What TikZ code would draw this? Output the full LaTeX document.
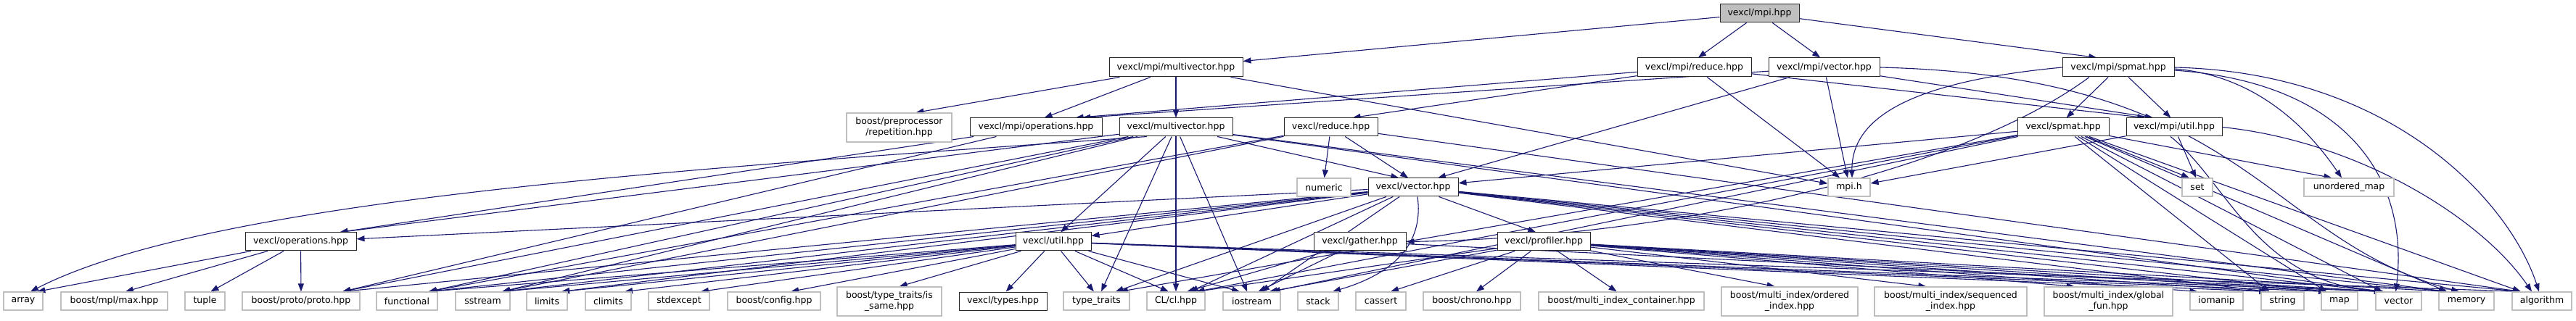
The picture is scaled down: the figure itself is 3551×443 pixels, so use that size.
\documentclass[tikz,border=0pt]{standalone}
\usepackage{fontspec}
\setmainfont{DejaVu Sans}
\usetikzlibrary{arrows.meta}
\definecolor{edgecol}{HTML}{191970}
\definecolor{boxgray}{HTML}{BFBFBF}
\pgfdeclarelayer{back}
\pgfdeclarelayer{bg}
\pgfsetlayers{back,bg,main}
\tikzset{
  conn/.style={draw=edgecol, line width=1.1pt, -{Triangle[length=11pt,width=8pt]}},
  nbase/.style={rectangle, inner sep=0pt, fill=white, text=black, align=center,
                font=\fontsize{12.5}{15}\selectfont},
  nb/.style={nbase, draw=black!85, line width=1.0pt},
  ng/.style={nbase, draw=boxgray, line width=1.2pt},
  nroot/.style={nbase, draw=black!85, line width=1.0pt, fill=boxgray},
}
\newcommand\N[6]{\node[#1, minimum width=#4, minimum height=#5] (#2) at (#3) {#6};}
\newcommand\E[2]{%
  \path (#1); \pgfgetlastxy{\Esx}{\Esy}%
  \path (#2.north); \pgfgetlastxy{\Etx}{\Ety}%
  \path (#2.north east); \pgfgetlastxy{\Eex}{\Eey}%
  \pgfmathsetmacro\Eoff{max(-0.7*(\Eex-\Etx),min(0.7*(\Eex-\Etx),0.06*(\Esx-\Etx)))}%
  \draw[conn] (#1) -- ([xshift=\Eoff pt]#2.north);%
}
\newcommand\Sd[2]{\draw[conn] (#1) -- (#2);}
\begin{document}
\begin{tikzpicture}[x=1pt,y=-1pt]
\begin{pgfonlayer}{back}
\fill[white] (0,0) rectangle (3551,443);
\end{pgfonlayer}
\useasboundingbox (0,0) rectangle (3551,443);
% row 0
\N{nroot}{mpi}{2425.5,18.5}{109}{25}{vexcl/mpi.hpp}
% row 1
\N{nb}{mpimv}{1621,93}{184}{26}{vexcl/mpi/multivector.hpp}
\N{nb}{mpired}{2335.5,93}{157}{26}{vexcl/mpi/reduce.hpp}
\N{nb}{mpivec}{2514.5,93}{153}{26}{vexcl/mpi/vector.hpp}
\N{nb}{mpispmat}{2920,93}{154}{26}{vexcl/mpi/spmat.hpp}
% row 2
\N{ng}{prep}{1239.5,176}{145}{40}{boost/preprocessor\\/repetition.hpp}
\N{nb}{mpiops}{1428,175.5}{182}{25}{vexcl/mpi/operations.hpp}
\N{nb}{mv}{1621,175.5}{156}{25}{vexcl/multivector.hpp}
\N{nb}{red}{1834.5,175.5}{129}{25}{vexcl/reduce.hpp}
\N{nb}{spmat}{2844,175.5}{126}{25}{vexcl/spmat.hpp}
\N{nb}{mpiutil}{2997,175.5}{132}{25}{vexcl/mpi/util.hpp}
% row 3
\N{ng}{numeric}{1825,258.5}{74}{25}{numeric}
\N{nb}{vec}{1948,258.5}{124}{25}{vexcl/vector.hpp}
\N{ng}{mpih}{2549,258.5}{58}{25}{mpi.h}
\N{ng}{set}{3029,258.5}{42}{25}{set}
\N{ng}{umap}{3238,258.5}{124}{25}{unordered\_map}
% row 4
\N{nb}{ops}{414.5,333.5}{153}{25}{vexcl/operations.hpp}
\N{nb}{util}{1452,333.5}{104}{25}{vexcl/util.hpp}
\N{nb}{gather}{1874.5,333.5}{127}{25}{vexcl/gather.hpp}
\N{nb}{prof}{2128,333.5}{128}{25}{vexcl/profiler.hpp}
% row 5
\N{ng}{array}{32,415.5}{54}{25}{array}
\N{ng}{mplmax}{157.5,415.5}{147}{25}{boost/mpl/max.hpp}
\N{ng}{tuple}{282.5,415.5}{55}{25}{tuple}
\N{ng}{proto}{415,415.5}{162}{25}{boost/proto/proto.hpp}
\N{ng}{functional}{561,415.5}{84}{25}{functional}
\N{ng}{sstream}{665.5,415.5}{75}{25}{sstream}
\N{ng}{limits}{754,415.5}{56}{25}{limits}
\N{ng}{climits}{838.5,415.5}{63}{25}{climits}
\N{ng}{stdexcept}{936,415.5}{84}{25}{stdexcept}
\N{ng}{config}{1067,415.5}{128}{25}{boost/config.hpp}
\N{ng}{issame}{1226,416}{144}{40}{boost/type\_traits/is\\\_same.hpp}
\N{nb}{types}{1382.5,415.5}{121}{25}{vexcl/types.hpp}
\N{ng}{typetraits}{1511.5,415.5}{91}{25}{type\_traits}
\N{ng}{clhpp}{1621,415.5}{80}{25}{CL/cl.hpp}
\N{ng}{iostream}{1725.5,415.5}{79}{25}{iostream}
\N{ng}{stack}{1817,415.5}{56}{25}{stack}
\N{ng}{cassert}{1903.5,415.5}{69}{25}{cassert}
\N{ng}{chrono}{2029,415.5}{134}{25}{boost/chrono.hpp}
\N{ng}{mic}{2235,415.5}{228}{25}{boost/multi\_index\_container.hpp}
\N{ng}{ordered}{2467,416}{188}{40}{boost/multi\_index/ordered\\\_index.hpp}
\N{ng}{sequenced}{2689,416}{210}{40}{boost/multi\_index/sequenced\\\_index.hpp}
\N{ng}{globalfun}{2906.5,416}{177}{40}{boost/multi\_index/global\\\_fun.hpp}
\N{ng}{iomanip}{3055.5,415.5}{73}{25}{iomanip}
\N{ng}{string}{3146.5,415.5}{59}{25}{string}
\N{ng}{map}{3225,415.5}{50}{25}{map}
\N{ng}{vectorstd}{3306.5,415.5}{63}{25}{vector}
\N{ng}{memory}{3400,415.5}{76}{25}{memory}
\N{ng}{algorithm}{3504,415.5}{82}{25}{algorithm}

\begin{pgfonlayer}{bg}
% vexcl/mpi.hpp
\Sd{mpi}{mpimv}
\E{mpi}{mpired} \E{mpi}{mpivec} \E{mpi}{mpispmat}
% mpi/multivector
\E{mpimv}{prep} \E{mpimv}{mpiops} \E{mpimv}{mv} \Sd{mpimv}{mpih}
% mpi/reduce
\E{mpired}{mpiops} \E{mpired}{red} \E{mpired}{mpih} \E{mpired}{mpiutil}
% mpi/vector
\E{mpivec}{mpiops} \E{mpivec}{vec} \E{mpivec}{mpih} \E{mpivec}{mpiutil}
\draw[conn] (mpivec.east) .. controls (3100,105) and (3120,330) .. ([xshift=-10pt]memory.north);
% mpi/spmat
\draw[conn] (mpispmat.west) .. controls (2640,112) and (2552,160) .. ([xshift=4pt]mpih.north);
\E{mpispmat}{spmat} \E{mpispmat}{mpiutil}
\draw[conn] ([xshift=-40pt]mpispmat.south) .. controls (2700,240) and (2300,328) .. (gather.east);
\draw[conn] ([yshift=-2pt]mpispmat.east) .. controls (3120,105) and (3190,190) .. ([xshift=-10pt]umap.north);
\draw[conn] ([yshift=-4pt]mpispmat.east) .. controls (3250,115) and (3320,260) .. ([xshift=-4pt]vectorstd.north);
\draw[conn] (mpispmat.east) .. controls (3300,100) and (3460,280) .. ([xshift=-4pt]algorithm.north);
% mpi/operations
\E{mpiops}{ops} \E{mpiops}{proto}
% multivector
\E{mv}{ops} \E{mv}{proto} \E{mv}{util} \E{mv}{vec}
\draw[conn] ([xshift=-40pt]mv.south) .. controls (1000,230) and (300,270) .. ([xshift=10pt]array.north);
\E{mv}{typetraits} \E{mv}{clhpp} \E{mv}{iostream} \E{mv}{functional} \E{mv}{sstream}
\E{mv}{vectorstd} \E{mv}{memory}
% reduce
\E{red}{numeric} \E{red}{vec} \E{red}{functional} \E{red}{sstream} \E{red}{algorithm}
% spmat
\Sd{spmat}{vec}
\E{spmat}{set} \E{spmat}{umap} \E{spmat}{typetraits} \E{spmat}{clhpp} \E{spmat}{iostream}
\E{spmat}{string} \E{spmat}{map} \E{spmat}{vectorstd} \E{spmat}{memory} \E{spmat}{algorithm}
% mpi/util
\Sd{mpiutil}{mpih}
\E{mpiutil}{set}
\draw[conn] ([xshift=-5pt]mpiutil.south) .. controls (3070,250) and (3110,390) .. ([xshift=-20pt]vectorstd.north);
\draw[conn] (mpiutil.east) .. controls (3250,195) and (3420,300) .. ([xshift=-14pt]algorithm.north);
% vector
\Sd{vec}{ops} \Sd{vec}{util} \E{vec}{prof}
\draw[conn] ([xshift=6pt]vec.south) .. controls (1962,330) and (1930,375) .. ([xshift=20pt]stack.north);
\E{vec}{typetraits} \E{vec}{clhpp} \E{vec}{iostream} \E{vec}{functional} \E{vec}{sstream}
\E{vec}{limits} \E{vec}{proto} \E{vec}{string} \E{vec}{map} \E{vec}{vectorstd}
\E{vec}{memory} \E{vec}{algorithm}
% operations
\E{ops}{array} \E{ops}{mplmax} \E{ops}{tuple} \E{ops}{proto}
% util
\E{util}{functional} \E{util}{sstream} \E{util}{limits} \E{util}{climits} \E{util}{stdexcept}
\E{util}{config} \E{util}{issame} \E{util}{types} \E{util}{typetraits} \E{util}{clhpp}
\E{util}{iostream} \E{util}{string} \E{util}{map} \E{util}{vectorstd} \E{util}{algorithm}
% gather
\E{gather}{clhpp} \E{gather}{iostream} \E{gather}{vectorstd}
% profiler
\E{prof}{cassert} \E{prof}{chrono} \E{prof}{mic} \E{prof}{ordered} \E{prof}{sequenced}
\E{prof}{globalfun} \E{prof}{iomanip} \E{prof}{string} \E{prof}{map} \E{prof}{vectorstd}
\E{prof}{memory} \E{prof}{iostream} \E{prof}{clhpp}
\end{pgfonlayer}
\end{tikzpicture}
\end{document}
